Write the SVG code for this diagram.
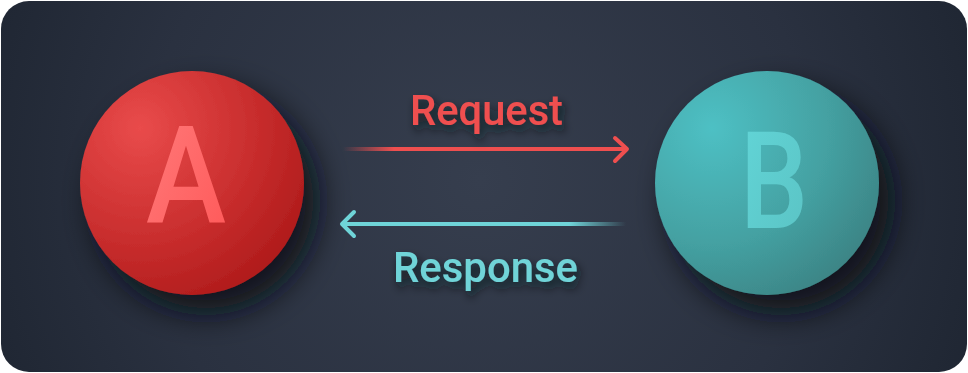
<svg xmlns="http://www.w3.org/2000/svg" width="968" height="373" viewBox="0 0 968 373">
<defs>
  <radialGradient id="bg" cx="480" cy="180" r="560" gradientUnits="userSpaceOnUse">
    <stop offset="0" stop-color="#363e4e"/>
    <stop offset="0.6" stop-color="#2a3140"/>
    <stop offset="1" stop-color="#1d2430"/>
  </radialGradient>
  <radialGradient id="gA" cx="140" cy="128" r="210" gradientUnits="userSpaceOnUse">
    <stop offset="0" stop-color="#e94b4b"/>
    <stop offset="0.55" stop-color="#c82d2d"/>
    <stop offset="1" stop-color="#a81616"/>
  </radialGradient>
  <radialGradient id="gB" cx="712" cy="128" r="210" gradientUnits="userSpaceOnUse">
    <stop offset="0" stop-color="#4ec0c4"/>
    <stop offset="0.55" stop-color="#44a1a2"/>
    <stop offset="1" stop-color="#3a7d7e"/>
  </radialGradient>
  <linearGradient id="tA" x1="0" y1="0" x2="1" y2="1">
    <stop offset="0" stop-color="#ff7b7b"/>
    <stop offset="1" stop-color="#ff5858"/>
  </linearGradient>
  <linearGradient id="tB" x1="0" y1="0" x2="1" y2="1">
    <stop offset="0" stop-color="#62d6d8"/>
    <stop offset="1" stop-color="#5ac2c3"/>
  </linearGradient>
  <linearGradient id="lReq" x1="343" y1="0" x2="627" y2="0" gradientUnits="userSpaceOnUse">
    <stop offset="0" stop-color="#ef4f4f" stop-opacity="0"/>
    <stop offset="0.18" stop-color="#ef4f4f" stop-opacity="1"/>
    <stop offset="1" stop-color="#ef4f4f"/>
  </linearGradient>
  <linearGradient id="lRes" x1="342" y1="0" x2="626" y2="0" gradientUnits="userSpaceOnUse">
    <stop offset="0" stop-color="#6fd4d8"/>
    <stop offset="0.8" stop-color="#6fd4d8" stop-opacity="1"/>
    <stop offset="1" stop-color="#6fd4d8" stop-opacity="0"/>
  </linearGradient>
  <filter id="sh" x="-40%" y="-40%" width="190%" height="190%">
    <feGaussianBlur in="SourceAlpha" stdDeviation="16"/>
    <feOffset dx="14" dy="18" result="b"/>
    <feFlood flood-color="#0c1017" flood-opacity="0.9"/>
    <feComposite in2="b" operator="in"/>
    <feMerge><feMergeNode/><feMergeNode in="SourceGraphic"/></feMerge>
  </filter>
  <filter id="tsh" x="-20%" y="-40%" width="140%" height="190%">
    <feDropShadow dx="3" dy="6" stdDeviation="5" flood-color="#11151d" flood-opacity="0.8"/>
  </filter>
  <style>
    .lbl { font-family: Roboto, "DejaVu Sans", sans-serif; font-weight: 500; font-size: 42px; }
    .big { font-family: Roboto, "DejaVu Sans", sans-serif; font-weight: 500; font-size: 136px; text-anchor: middle; }
    .ln { fill: none; stroke-width: 4; stroke-linecap: round; stroke-linejoin: round; }
  </style>
</defs>
<rect x="0" y="0" width="968" height="373" fill="#ffffff"/>
<rect x="1" y="1" width="966" height="371" rx="28" ry="28" fill="url(#bg)"/>

<g id="node-A">
  <circle cx="192" cy="183" r="112" fill="url(#gA)" filter="url(#sh)"/>
  <text class="big" x="186" y="223" fill="url(#tA)" textLength="80" lengthAdjust="spacingAndGlyphs">A</text>
</g>

<g id="node-B">
  <circle cx="767" cy="183" r="112" fill="url(#gB)" filter="url(#sh)"/>
  <text class="big" x="774" y="228" fill="url(#tB)" textLength="68" lengthAdjust="spacingAndGlyphs">B</text>
</g>

<g id="connectors">
  <g id="request">
    <line class="ln" x1="343" y1="149" x2="625" y2="149" stroke="url(#lReq)" stroke-linecap="butt"/>
    <polyline class="ln" points="615,138 627,149 615,161" stroke="#ef4f4f"/>
    <text class="lbl" x="410" y="125" fill="#ef4f4f" filter="url(#tsh)" textLength="153" lengthAdjust="spacingAndGlyphs">Request</text>
  </g>
  <g id="response">
    <line class="ln" x1="344" y1="224" x2="626" y2="224" stroke="url(#lRes)" stroke-linecap="butt"/>
    <polyline class="ln" points="354,212 342,224 354,236" stroke="#6fd4d8"/>
    <text class="lbl" x="393" y="282" fill="#6fd4d8" filter="url(#tsh)" textLength="185" lengthAdjust="spacingAndGlyphs">Response</text>
  </g>
</g>
</svg>
